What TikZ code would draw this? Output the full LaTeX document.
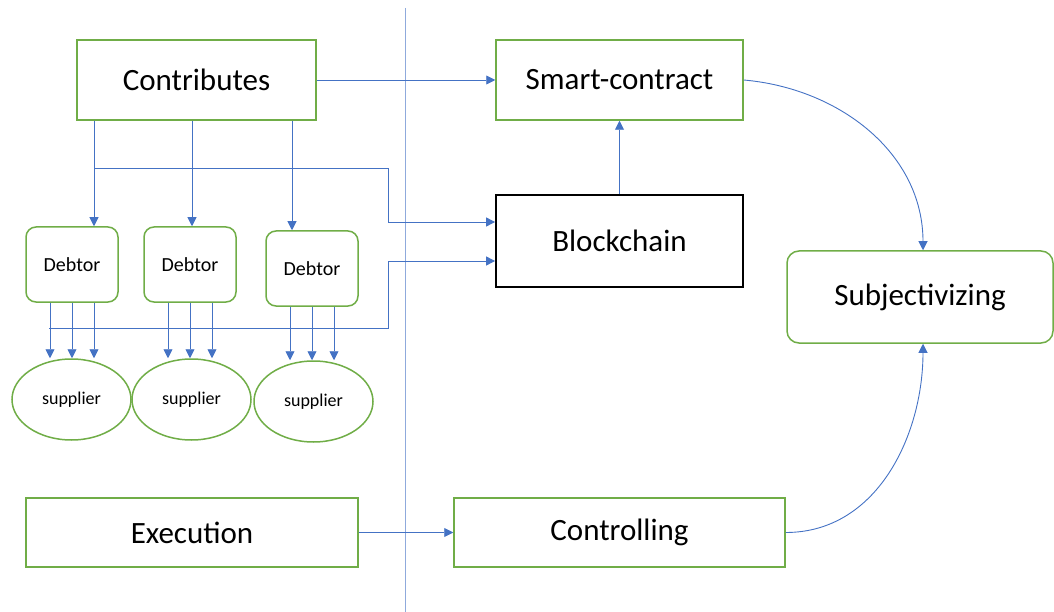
\documentclass[tikz,border=0pt]{standalone}
\usepackage{fontspec}
\setmainfont{Carlito}
\usetikzlibrary{positioning, calc, shapes.geometric, arrows.meta}

\definecolor{boxgreen}{RGB}{112,173,71}
\definecolor{linkblue}{RGB}{68,114,196}
\definecolor{splitblue}{RGB}{143,170,220}

\begin{document}
\begin{tikzpicture}[x=1pt, y=-1pt,
	block/.style={rectangle, draw=boxgreen, line width=1.5pt, inner sep=0pt, font=\fontsize{31}{37}\selectfont},
	debtor/.style={rectangle, rounded corners=10pt, draw=boxgreen, line width=1.5pt, minimum width=92pt, minimum height=75pt, font=\fontsize{20}{24}\selectfont},
	supplier/.style={ellipse, draw=boxgreen, line width=1.5pt, inner sep=0pt, minimum width=119pt, minimum height=81pt, font=\fontsize{18}{22}\selectfont},
	link/.style={draw=linkblue, line width=0.9pt, -{Triangle[width=9pt,length=9pt]}}]
			\useasboundingbox (0,0) rectangle (1054,612);

			% left and right halves
			\draw[splitblue, line width=1pt] (405,8) -- (405,612);

			\node[block, minimum width=239pt, minimum height=80pt] (contrib) at (196.5,80) {Contributes};
			\node[block, minimum width=247pt, minimum height=80pt] (smart) at (619.5,80) {Smart-contract};
			\node[block, draw=black, line width=1.8pt, minimum width=247pt, minimum height=92pt] (chain) at (619.5,241) {Blockchain};
			\node[block, rounded corners=12pt, minimum width=266pt, minimum height=92pt] (subj) at (920,297) {Subjectivizing};
			\node[block, minimum width=332pt, minimum height=69pt] (exec) at (192,532.5) {Execution};
			\node[block, minimum width=331pt, minimum height=69pt] (control) at (619.5,532.5) {Controlling};

			\node[debtor] (d1) at (72,264.5) {Debtor};
			\node[debtor] (d2) at (190,264.5) {Debtor};
			\node[debtor] (d3) at (312,268.5) {Debtor};

			\node[supplier] (s1) at (71.5,399.5) {supplier};
			\node[supplier] (s2) at (191.5,399.5) {supplier};
			\node[supplier] (s3) at (313.5,401.5) {supplier};

			% contributes down to the debtors
			\foreach \i/\dx in {1/22, 2/2, 3/-20}
				\path ([xshift=\dx pt]d\i.north) coordinate (t\i);
			\foreach \i in {1,2,3}
				\draw[link] (contrib.south -| t\i) -- (t\i);

			% debtors down to the suppliers
			\foreach \i in {1,2,3}
				\foreach \dx in {-22,0,22} {
					\path ([xshift=\dx pt]d\i.south) coordinate (top);
					\draw[link] (top) -- (top |- s\i.north);
				}

			% branches into the blockchain
			\coordinate (split) at (t1 |- 0,168);
			\coordinate (bend) at (388,168);
			\coordinate (tap) at (49,328);
			\draw[link] (split) -- (bend) |- ([yshift=19pt]chain.west);
			\draw[link] (tap) -- (tap -| bend) |- ([yshift=-20pt]chain.west);

			\draw[link] (contrib) -- (smart);
			\draw[link] (chain) -- (smart);
			\draw[link] (exec) -- (control);
			\draw[link] (smart.east) to[out=-5, in=90] ([xshift=3pt]subj.north);
			\draw[link] (control.east) to[out=0, in=-90] ([xshift=3pt]subj.south);
		\end{tikzpicture}
\end{document}
